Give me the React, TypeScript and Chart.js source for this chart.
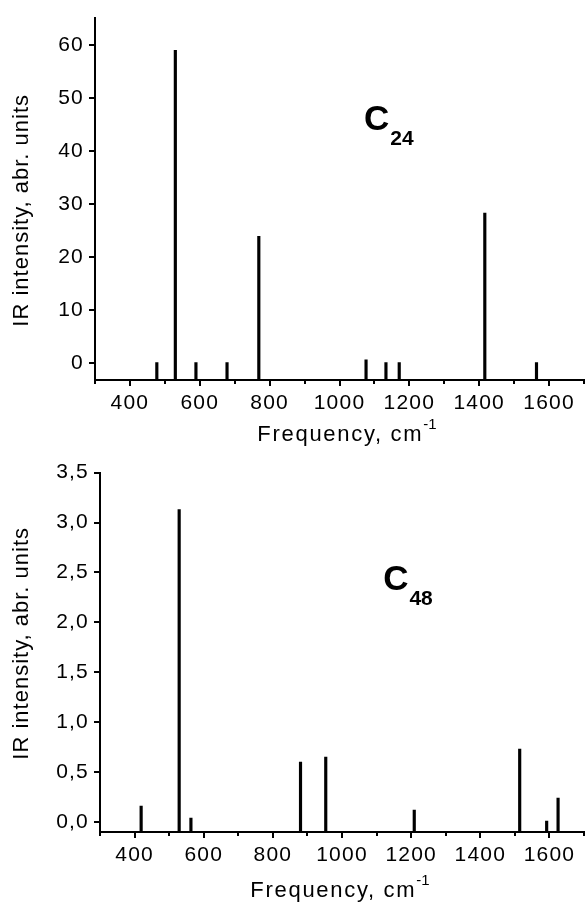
import React, { useEffect, useRef } from 'react';
import { Chart, registerables } from 'chart.js';

Chart.register(...registerables);

// ---------- data ----------
const c24Freq = [477, 530, 589, 678, 769, 1076, 1133, 1171, 1416, 1564];
const c24Intensity = [0.1, 59, 0.1, 0.1, 23.9, 0.6, 0.1, 0.1, 28.3, 0.1];

const c48Freq = [419, 529, 563, 880, 953, 1209, 1514, 1592, 1625];
const c48Intensity = [0.16, 3.13, 0.04, 0.6, 0.65, 0.12, 0.73, 0.01, 0.24];

const xTickValues = [400, 600, 800, 1000, 1200, 1400, 1600];
const xMinorTickValues = [300, 500, 700, 900, 1100, 1300, 1500, 1700];
const c24YTicks = [0, 10, 20, 30, 40, 50, 60];
const c48YTicks = [0, 0.5, 1.0, 1.5, 2.0, 2.5, 3.0, 3.5];

const xTitleMain = 'Frequency, cm';
const xTitleSup = '-1';
const yTitleText = 'IR intensity, abr. units';

const c24Label = { main: 'C', sub: '24', x: 1070, y: 43.9 };
const c48Label = { main: 'C', sub: '48', x: 1119, y: 2.32 };

// ---------- style ----------
const FONT = "'Liberation Sans', Arial, Helvetica, sans-serif";

const topPanel = {
  canvasTop: 0, canvasHeight: 455, padTop: 13, axisWidth: 95, axisHeight: 75,
  xTitleDx: 7.5, xTitleDy: 61, yTitleDy: 11.5,
};
const bottomPanel = {
  canvasTop: 455, canvasHeight: 452, padTop: 17, axisWidth: 100, axisHeight: 75,
  xTitleDx: -2, xTitleDy: 65, yTitleDy: -9,
};

const spectrumPlugin = {
  id: 'spectrumText',
  beforeDraw(chart: any) {
    (chart.ctx as any).letterSpacing = '1.2px';
  },
  afterDraw(chart: any, _args: any, opts: any) {
    const { ctx, chartArea, scales } = chart;
    const xs = scales.x;
    const ys = scales.y;
    (ctx as any).letterSpacing = '0px';
    ctx.save();
    // minor ticks
    ctx.strokeStyle = '#000';
    ctx.lineWidth = 2;
    for (const v of opts.minor) {
      const px = Math.round(xs.getPixelForValue(v));
      ctx.beginPath();
      ctx.moveTo(px, chartArea.bottom);
      ctx.lineTo(px, chartArea.bottom + 4);
      ctx.stroke();
    }
    ctx.fillStyle = '#000';
    // x title with superscript
    ctx.textAlign = 'left';
    ctx.textBaseline = 'alphabetic';
    ctx.font = `22px ${FONT}`;
    (ctx as any).letterSpacing = '1.7px';
    const w1 = ctx.measureText(xTitleMain).width;
    ctx.font = `15px ${FONT}`;
    (ctx as any).letterSpacing = '0px';
    const w2 = ctx.measureText(xTitleSup).width;
    const cx = (chartArea.left + chartArea.right) / 2 + opts.xTitleDx;
    const sx = cx - (w1 + w2) / 2;
    const by = chartArea.bottom + opts.xTitleDy;
    ctx.font = `22px ${FONT}`;
    (ctx as any).letterSpacing = '1.7px';
    ctx.fillText(xTitleMain, sx, by);
    ctx.font = `15px ${FONT}`;
    (ctx as any).letterSpacing = '0px';
    ctx.fillText(xTitleSup, sx + w1, by - 12);
    // y title
    ctx.save();
    const cy = (chartArea.top + chartArea.bottom) / 2 + opts.yTitleDy;
    ctx.translate(28.4, cy);
    ctx.rotate(-Math.PI / 2);
    ctx.font = `22px ${FONT}`;
    (ctx as any).letterSpacing = '1px';
    ctx.textAlign = 'center';
    ctx.textBaseline = 'alphabetic';
    ctx.fillText(yTitleText, 0, 0);
    ctx.restore();
    // molecule label
    const lab = opts.label;
    const lx = xs.getPixelForValue(lab.x);
    const ly = ys.getPixelForValue(lab.y);
    (ctx as any).letterSpacing = '0px';
    ctx.textAlign = 'left';
    ctx.textBaseline = 'alphabetic';
    ctx.font = `bold 35px ${FONT}`;
    ctx.fillText(lab.main, lx, ly);
    const cw = ctx.measureText(lab.main).width;
    ctx.font = `bold 21px ${FONT}`;
    ctx.fillText(lab.sub, lx + cw + 1, ly + 14.5);
    ctx.restore();
    (ctx as any).letterSpacing = '0px';
  },
};

function makeConfig(panel: any, freq: number[], inten: number[], yMin: number, yMax: number,
  yTicks: number[], fmt: (v: number) => string, label: any) {
  const gridOpts = {
    display: true, drawOnChartArea: false, drawTicks: true, tickLength: 6, offset: false,
    tickWidth: 2, tickColor: '#000', color: '#000', lineWidth: 2,
  };
  const borderOpts = { display: true, color: '#000', width: 2 };
  return {
    type: 'bar' as const,
    data: {
      datasets: [{
        data: freq.map((f, i) => ({ x: f, y: inten[i] })),
        backgroundColor: '#000',
        borderWidth: 0,
        barThickness: 2.5,
        base: yMin,
      }],
    },
    plugins: [spectrumPlugin],
    options: {
      responsive: false,
      animation: false as const,
      devicePixelRatio: 1,
      layout: { padding: { top: panel.padTop, right: 1, left: 0, bottom: 0 }, autoPadding: false },
      plugins: {
        legend: { display: false },
        tooltip: { enabled: false },
        spectrumText: {
          minor: xMinorTickValues, label,
          xTitleDx: panel.xTitleDx, xTitleDy: panel.xTitleDy, yTitleDy: panel.yTitleDy,
        },
      },
      scales: {
        x: {
          type: 'linear' as const, min: 300, max: 1700, bounds: 'data' as const, offset: false,
          afterBuildTicks: (s: any) => { s.ticks = xTickValues.map((v) => ({ value: v })); },
          afterFit: (s: any) => { s.height = panel.axisHeight; },
          ticks: {
            autoSkip: false, maxRotation: 0, minRotation: 0, padding: 5, color: '#000',
            font: { size: 21, family: FONT }, callback: (v: any) => String(v),
          },
          grid: gridOpts, border: borderOpts, title: { display: false },
        },
        y: {
          type: 'linear' as const, min: yMin, max: yMax, bounds: 'data' as const, offset: false,
          afterBuildTicks: (s: any) => { s.ticks = yTicks.map((v) => ({ value: v })); },
          afterFit: (s: any) => { s.width = panel.axisWidth; },
          ticks: {
            autoSkip: false, padding: 5, color: '#000',
            font: { size: 21, family: FONT }, callback: (v: any) => fmt(Number(v)),
          },
          grid: gridOpts, border: borderOpts, title: { display: false },
        },
      },
    },
  };
}

export default function App() {
  const topRef = useRef<HTMLCanvasElement>(null);
  const botRef = useRef<HTMLCanvasElement>(null);

  useEffect(() => {
    const c1 = new Chart(topRef.current as HTMLCanvasElement, makeConfig(
      topPanel, c24Freq, c24Intensity, -3.2, 65.2, c24YTicks, (v) => String(v), c24Label) as any);
    const c2 = new Chart(botRef.current as HTMLCanvasElement, makeConfig(
      bottomPanel, c48Freq, c48Intensity, -0.1, 3.5, c48YTicks,
      (v) => v.toFixed(1).replace('.', ','), c48Label) as any);
    return () => { c1.destroy(); c2.destroy(); };
  }, []);

  return (
    <div style={{ position: 'fixed', left: 0, top: 0, width: 585, height: 907, background: '#fff' }}>
      <canvas ref={topRef} width={585} height={topPanel.canvasHeight}
        style={{ position: 'absolute', left: 0, top: topPanel.canvasTop, width: 585, height: topPanel.canvasHeight }} />
      <canvas ref={botRef} width={585} height={bottomPanel.canvasHeight}
        style={{ position: 'absolute', left: 0, top: bottomPanel.canvasTop, width: 585, height: bottomPanel.canvasHeight }} />
    </div>
  );
}
